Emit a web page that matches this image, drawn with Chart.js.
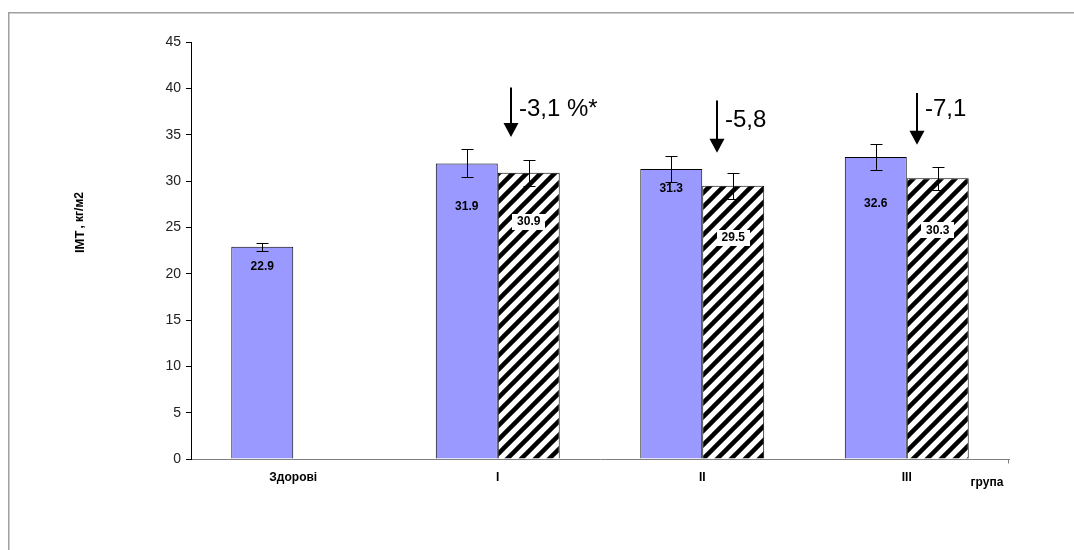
<!DOCTYPE html>
<html><head><meta charset="utf-8">
<script src="https://cdn.jsdelivr.net/npm/chart.js@4.4.1/dist/chart.umd.min.js"></script>
<style>html,body{margin:0;padding:0;background:#fff;} canvas{display:block;}</style>
</head><body>
<canvas id="c" width="1074" height="550"></canvas>
<script>
const categories = ['Здорові', 'I', 'II', 'III'];
const beforeValues = [22.9, 31.9, 31.3, 32.6];
const afterValues = [null, 30.9, 29.5, 30.3];
const beforeErrors = [0.4, 1.5, 1.45, 1.4];
const afterErrors = [null, 1.4, 1.4, 1.25];
const changeLabels = [null, '-3,1 %*', '-5,8', '-7,1'];
const yMin = 0, yMax = 45, yStep = 5;
const yTitleMain = 'ІМТ', yTitleUnit = ', кг/м2';
const xTitle = 'група';

const FONT = "'Liberation Sans', Arial, sans-serif";

function makeHatch(ctx) {
  const s = 14;
  const c = document.createElement('canvas');
  c.width = s; c.height = s;
  const x = c.getContext('2d');
  x.fillStyle = '#fff'; x.fillRect(0, 0, s, s);
  x.strokeStyle = '#000'; x.lineWidth = 4.5;
  for (let k = 0; k <= 2; k++) {
    x.beginPath();
    x.moveTo(-2, k * s + 2);
    x.lineTo(s + 2, k * s - s - 2);
    x.stroke();
  }
  return ctx.createPattern(c, 'repeat');
}

const canvas = document.getElementById('c');
const ctx = canvas.getContext('2d');
const hatch = makeHatch(ctx);

// layout tweaks (pixels) for annotations
const beforeLabelOffsets = [20, 43, 20, 47];
const afterLabelOffsets = [null, 49, 52, 52];
const arrowDx = [null, 13, 15, 10];
const arrowTopVal = [null, 40.1, 38.7, 39.5];
const arrowTipVal = [null, 34.75, 33.05, 33.9];
const textDy = [null, 0, -2, -6];

const annot = {
  id: 'annot',
  afterDatasetsDraw(chart) {
    const c = chart.ctx;
    const ys = chart.scales.y, xs = chart.scales.x;
    const m0 = chart.getDatasetMeta(0), m1 = chart.getDatasetMeta(1);
    c.save();
    // error bars
    c.strokeStyle = '#000'; c.lineWidth = 1;
    const drawErr = (meta, vals, errs) => {
      vals.forEach((v, i) => {
        if (v == null || errs[i] == null) return;
        const x = Math.round(meta.data[i].x) + 0.5;
        const yt = Math.round(ys.getPixelForValue(v + errs[i])) + 0.5;
        const yb = Math.round(ys.getPixelForValue(v - errs[i])) + 0.5;
        c.beginPath();
        c.moveTo(x, yt); c.lineTo(x, yb);
        c.moveTo(x - 6, yt); c.lineTo(x + 6, yt);
        c.moveTo(x - 6, yb); c.lineTo(x + 6, yb);
        c.stroke();
      });
    };
    drawErr(m0, beforeValues, beforeErrors);
    drawErr(m1, afterValues, afterErrors);
    // value labels
    c.font = 'bold 12px ' + FONT;
    c.textAlign = 'center'; c.textBaseline = 'middle';
    beforeValues.forEach((v, i) => {
      if (v == null) return;
      const x = m0.data[i].x, y = ys.getPixelForValue(v) + beforeLabelOffsets[i];
      c.fillStyle = '#000';
      c.fillText(v.toFixed(1), x, y);
    });
    afterValues.forEach((v, i) => {
      if (v == null) return;
      const x = m1.data[i].x, y = ys.getPixelForValue(v) + afterLabelOffsets[i];
      const t = v.toFixed(1);
      const w = c.measureText(t).width + 10;
      c.fillStyle = '#fff';
      c.fillRect(Math.round(x - w / 2), Math.round(y - 8), Math.round(w), 16);
      c.fillStyle = '#000';
      c.fillText(t, x, y);
    });
    // arrows + change texts
    c.font = '24px ' + FONT;
    c.textAlign = 'left';
    changeLabels.forEach((t, i) => {
      if (t == null) return;
      const x = Math.round(xs.getPixelForValue(i) + arrowDx[i]);
      const yTop = ys.getPixelForValue(arrowTopVal[i]);
      const yTip = ys.getPixelForValue(arrowTipVal[i]);
      c.strokeStyle = '#000'; c.lineWidth = 2;
      c.beginPath(); c.moveTo(x, yTop); c.lineTo(x, yTip - 12); c.stroke();
      c.fillStyle = '#000';
      c.beginPath();
      c.moveTo(x - 7.5, yTip - 14); c.lineTo(x + 7.5, yTip - 14); c.lineTo(x, yTip);
      c.closePath(); c.fill();
      c.fillText(t, x + 8, yTop + 22 + textDy[i]);
    });
    // y title
    c.save();
    c.translate(80, 253);
    c.rotate(-Math.PI / 2);
    c.textAlign = 'left'; c.textBaseline = 'middle';
    c.font = 'bold 13px ' + FONT;
    c.fillText(yTitleMain, 0, 0);
    const w1 = c.measureText(yTitleMain).width;
    c.font = 'bold 12px ' + FONT;
    c.fillText(yTitleUnit, w1 + 2, 0);
    c.restore();
    // x title
    c.font = 'bold 12px ' + FONT;
    c.textAlign = 'center'; c.textBaseline = 'middle';
    c.fillText(xTitle, 987, 483);
    // end tick of x axis
    c.strokeStyle = '#808080'; c.lineWidth = 1;
    const xr = Math.round(chart.chartArea.right) - 0.5;
    const yb = Math.round(ys.getPixelForValue(0)) + 0.5;
    c.beginPath(); c.moveTo(xr, yb); c.lineTo(xr, yb + 4); c.stroke();
    // outer frame
    c.strokeStyle = '#a0a0a0'; c.lineWidth = 1.5;
    c.beginPath(); c.moveTo(8.75, 600); c.lineTo(8.75, 12.75); c.lineTo(1100, 12.75); c.stroke();
    c.restore();
  }
};

new Chart(ctx, {
  type: 'bar',
  data: {
    labels: categories,
    datasets: [
      { data: beforeValues, backgroundColor: '#9999ff', borderColor: '#000', borderWidth: 1,
        categoryPercentage: 0.606, barPercentage: 1 },
      { data: afterValues, backgroundColor: hatch, borderColor: '#000', borderWidth: 1,
        categoryPercentage: 0.606, barPercentage: 1 }
    ]
  },
  options: {
    responsive: false,
    animation: false,
    events: [],
    plugins: { legend: { display: false }, tooltip: { enabled: false } },
    layout: { padding: { left: 0, right: 65, top: 42, bottom: 0 } },
    scales: {
      x: {
        grid: { display: false, drawTicks: false },
        border: { color: '#808080', width: 1 },
        ticks: { font: { family: FONT, size: 12, weight: 'bold' }, color: '#000', padding: 11, maxRotation: 0 },
        afterFit(s) { s.height = 91; }
      },
      y: {
        min: yMin, max: yMax,
        ticks: { stepSize: yStep, font: { family: FONT, size: 14 }, color: '#222', padding: 5 },
        grid: { drawOnChartArea: false, tickLength: 5, color: '#000' },
        border: { color: '#000', width: 1 },
        afterFit(s) { s.width = 191; }
      }
    }
  },
  plugins: [annot]
});
</script>
</body></html>
